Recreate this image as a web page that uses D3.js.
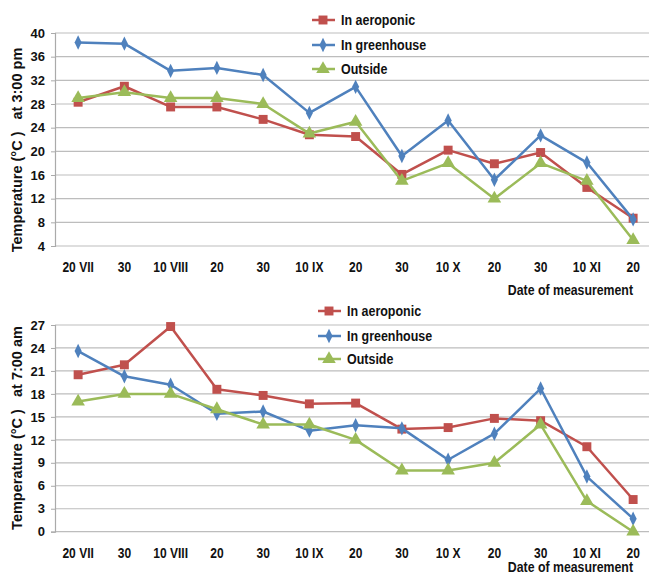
<!DOCTYPE html>
<html>
<head>
<meta charset="utf-8">
<script src="https://cdn.jsdelivr.net/npm/d3@7"></script>
<style>
  body { margin: 0; background: #fff; }
  svg text { font-family: "Liberation Sans Narrow", "Arial Narrow", "Liberation Sans", Arial, sans-serif; font-weight: bold; fill: #111; }
</style>
</head>
<body>
<div id="chart"></div>
<script>
// dates of measurement (x categories)
const dates = ["20 VII", "30", "10 VIII", "20", "30", "10 IX", "20", "30", "10 X", "20", "30", "10 XI", "20"];

// 3:00 pm temperatures
const pmAeroponic  = [28.3, 31.0, 27.5, 27.5, 25.4, 22.8, 22.5, 16.1, 20.2, 17.9, 19.8, 13.9, 8.7];
const pmGreenhouse = [38.4, 38.2, 33.6, 34.1, 32.9, 26.5, 30.9, 19.2, 25.2, 15.2, 22.7, 18.1, 8.5];
const pmOutside    = [29.0, 30.0, 29.0, 29.0, 28.0, 23.0, 25.0, 15.0, 18.0, 12.0, 18.0, 15.0, 5.0];
const pmTicks = [4, 8, 12, 16, 20, 24, 28, 32, 36, 40];

// 7:00 am temperatures
const amAeroponic  = [20.5, 21.8, 26.8, 18.6, 17.8, 16.7, 16.8, 13.4, 13.6, 14.8, 14.5, 11.1, 4.2];
const amGreenhouse = [23.6, 20.3, 19.2, 15.4, 15.7, 13.2, 13.9, 13.5, 9.4, 12.8, 18.7, 7.2, 1.7];
const amOutside    = [17.0, 18.0, 18.0, 16.0, 14.0, 14.0, 12.0, 8.0, 8.0, 9.0, 14.0, 4.0, 0.0];
const amTicks = [0, 3, 6, 9, 12, 15, 18, 21, 24, 27];

const seriesNames = ["In aeroponic", "In greenhouse", "Outside"];

const colors = { red: "#c0504d", blue: "#4f81bd", green: "#9bbb59" };
const shapes = [d3.symbolSquare, d3.symbolDiamond, d3.symbolTriangle];
const shapeSizes = [80, 60, 80];
const seriesColors = [colors.red, colors.blue, colors.green];

const W = 649, H = 577;
const svg = d3.select("#chart").append("svg")
    .attr("width", W)
    .attr("height", H);

// narrow-looking text (the original uses a condensed bold face)
function narrowText(parent, x, y, str, size, anchor, sx) {
    return parent.append("text")
        .attr("transform", "translate(" + x + "," + y + ") scale(" + sx + ",1)")
        .attr("text-anchor", anchor)
        .style("font-size", size + "px")
        .text(str);
}

function drawChart(opt) {
    const g = svg.append("g");

    const x = d3.scaleBand()
        .domain(d3.range(dates.length))
        .range([55, 55 + 46.25 * dates.length]);

    const y = d3.scaleLinear()
        .domain([opt.ticks[0], opt.ticks[opt.ticks.length - 1]])
        .range([opt.bottom, opt.top]);

    // gridlines
    g.selectAll(".grid")
        .data(opt.ticks)
        .enter().append("line")
        .attr("x1", 55).attr("x2", W)
        .attr("y1", d => y(d)).attr("y2", d => y(d))
        .attr("stroke", "#bdbdbd")
        .attr("stroke-width", 1.2);

    // left axis
    const yAxis = d3.axisLeft(y).tickValues(opt.ticks).tickSize(4).tickPadding(6);
    const ya = g.append("g")
        .attr("transform", "translate(55,0)")
        .call(yAxis);
    ya.select(".domain").attr("stroke", "#aaa").attr("stroke-width", 1.2);
    ya.selectAll(".tick line").attr("stroke", "#aaa");
    ya.selectAll("text").style("font-size", "13px");

    // x labels
    dates.forEach((d, i) => {
        narrowText(g, x(i) + x.bandwidth() / 2, opt.bottom + 26, d, 14, "middle", 0.86);
    });

    // x title
    narrowText(g, 633, opt.xTitleY, "Date of measurement", 14, "end", 0.88);

    // y title
    g.append("text")
        .attr("transform", "translate(22," + opt.yTitleC + ") rotate(-90)")
        .attr("text-anchor", "middle")
        .style("font-size", "14.5px")
        .attr("xml:space", "preserve")
        .text(opt.yTitle);

    const line = d3.line()
        .x((d, i) => x(i) + x.bandwidth() / 2)
        .y(d => y(d));

    // draw series in order: red, blue, green (green on top)
    opt.series.forEach((vals, si) => {
        g.append("path")
            .datum(vals)
            .attr("fill", "none")
            .attr("stroke", seriesColors[si])
            .attr("stroke-width", 2.5)
            .attr("stroke-linejoin", "round")
            .attr("d", line);

        g.selectAll(".m" + si)
            .data(vals)
            .enter().append("path")
            .attr("transform", (d, i) => "translate(" + (x(i) + x.bandwidth() / 2) + "," + y(d) + ")" + (si === 1 ? " scale(0.85,1)" : ""))
            .attr("d", d3.symbol().type(shapes[si]).size(shapeSizes[si]))
            .attr("fill", seriesColors[si]);
    });

    // legend
    const lg = g.append("g");
    seriesNames.forEach((name, si) => {
        const ly = opt.legendY[si];
        lg.append("line")
            .attr("x1", opt.legendX - 10).attr("x2", opt.legendX + 13)
            .attr("y1", ly).attr("y2", ly)
            .attr("stroke", seriesColors[si])
            .attr("stroke-width", 2.5);
        lg.append("path")
            .attr("transform", "translate(" + (opt.legendX + 1) + "," + ly + ")" + (si === 1 ? " scale(0.85,1)" : ""))
            .attr("d", d3.symbol().type(shapes[si]).size(shapeSizes[si]))
            .attr("fill", seriesColors[si]);
        narrowText(lg, opt.legendX + 19, ly + 5, name, 14.5, "start", 0.86);
    });
}

drawChart({
    top: 33, bottom: 246,
    ticks: pmTicks,
    series: [pmAeroponic, pmGreenhouse, pmOutside],
    yTitle: "Temperature (°C )   at 3:00 pm",
    yTitleC: 150,
    xTitleY: 295,
    legendX: 322,
    legendY: [20, 45, 69]
});

drawChart({
    top: 325, bottom: 531.7,
    ticks: amTicks,
    series: [amAeroponic, amGreenhouse, amOutside],
    yTitle: "Temperature (°C )   at 7:00 am",
    yTitleC: 428,
    xTitleY: 572,
    legendX: 328,
    legendY: [311, 336, 359]
});
</script>
</body>
</html>
